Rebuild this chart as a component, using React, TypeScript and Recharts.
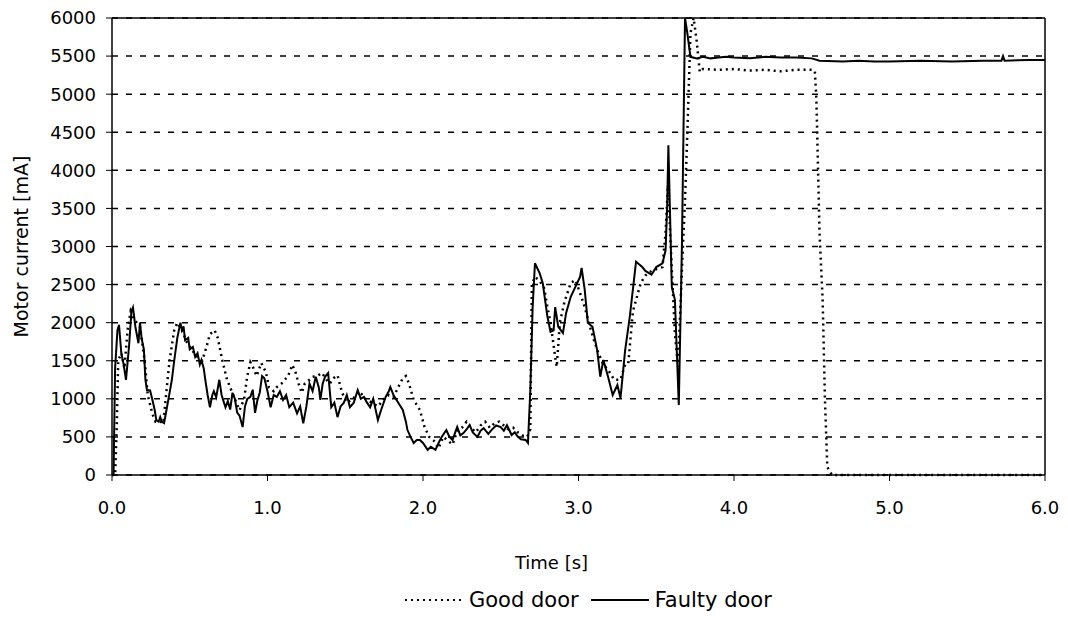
import { LineChart, Line, XAxis, YAxis, CartesianGrid, ReferenceLine, Legend } from "recharts";

const yTicks = [0, 500, 1000, 1500, 2000, 2500, 3000, 3500, 4000, 4500, 5000, 5500, 6000];
const xTicks = [0, 1, 2, 3, 4, 5, 6];

// Faulty door (solid line)
const faultyTime = [
  0, 0.01, 0.02, 0.035, 0.045, 0.06, 0.075, 0.09, 0.11, 0.125, 0.135, 0.15, 0.17, 0.18, 0.19, 0.205, 0.215, 0.225, 0.245, 0.26,
  0.275, 0.285, 0.3, 0.31, 0.32, 0.335, 0.35, 0.37, 0.385, 0.4, 0.42, 0.44, 0.45, 0.46, 0.47, 0.49, 0.5, 0.52, 0.535, 0.55,
  0.565, 0.575, 0.59, 0.6, 0.615, 0.63, 0.645, 0.655, 0.67, 0.69, 0.705, 0.72, 0.73, 0.745, 0.76, 0.775, 0.79, 0.805, 0.82, 0.84,
  0.855, 0.87, 0.89, 0.905, 0.92, 0.935, 0.95, 0.965, 0.98, 1.0, 1.02, 1.04, 1.06, 1.08, 1.1, 1.12, 1.14, 1.165, 1.19, 1.21,
  1.23, 1.25, 1.27, 1.29, 1.31, 1.33, 1.34, 1.355, 1.37, 1.39, 1.41, 1.43, 1.45, 1.47, 1.49, 1.51, 1.53, 1.555, 1.58, 1.6,
  1.62, 1.64, 1.66, 1.68, 1.71, 1.73, 1.76, 1.78, 1.79, 1.81, 1.83, 1.85, 1.87, 1.89, 1.9, 1.92, 1.94, 1.96, 1.98, 2.0,
  2.03, 2.05, 2.08, 2.1, 2.12, 2.15, 2.17, 2.19, 2.22, 2.24, 2.26, 2.28, 2.3, 2.32, 2.35, 2.37, 2.39, 2.42, 2.44, 2.47,
  2.5, 2.52, 2.54, 2.57, 2.59, 2.61, 2.63, 2.66, 2.675, 2.69, 2.705, 2.72, 2.75, 2.77, 2.8, 2.82, 2.84, 2.85, 2.87, 2.9,
  2.92, 2.95, 2.98, 3.01, 3.02, 3.04, 3.06, 3.09, 3.12, 3.14, 3.16, 3.19, 3.22, 3.25, 3.27, 3.3, 3.33, 3.37, 3.41, 3.43,
  3.47, 3.5, 3.54, 3.56, 3.57, 3.578, 3.6, 3.62, 3.645, 3.665, 3.685, 3.7, 3.72, 3.76, 3.8, 3.85, 3.9, 3.95, 4.0, 4.1,
  4.2, 4.3, 4.4, 4.5, 4.55, 4.7, 4.8, 4.9, 5.0, 5.2, 5.4, 5.6, 5.72, 5.73, 5.74, 5.9, 6.0,
];
const faultyCurrent = [
  0, 0, 1400, 1900, 1970, 1600, 1450, 1250, 1700, 2150, 2200, 1950, 1730, 2000, 1800, 1650, 1250, 1115, 1110, 985,
  850, 720, 700, 760, 700, 680, 850, 1075, 1250, 1500, 1800, 2000, 1900, 1950, 1770, 1800, 1650, 1680, 1550, 1600,
  1450, 1510, 1400, 1250, 1050, 890, 1050, 1100, 1020, 1250, 1050, 950, 890, 970, 860, 1080, 1000, 820, 780, 630,
  900, 1000, 1025, 1120, 815, 980, 1080, 1300, 1270, 1100, 890, 1050, 1025, 1100, 985, 1050, 890, 950, 810, 900,
  680, 900, 1200, 1100, 1290, 1150, 985, 1200, 1290, 1340, 890, 950, 760, 900, 945, 1050, 890, 950, 1115, 1000,
  1025, 950, 890, 1000, 720, 850, 1025, 1100, 1155, 1050, 985, 920, 855, 700, 590, 500, 420, 460, 460, 420,
  330, 370, 330, 420, 500, 590, 500, 460, 630, 520, 550, 600, 655, 560, 500, 580, 615, 540, 590, 650,
  630, 580, 655, 525, 560, 500, 470, 460, 420, 1100, 2200, 2780, 2650, 2520, 2080, 1880, 1900, 2205, 1945, 1865,
  2125, 2340, 2470, 2600, 2720, 2430, 2000, 1945, 1640, 1290, 1510, 1290, 1050, 1180, 1010, 1640, 2080, 2800, 2730, 2680,
  2630, 2730, 2780, 2950, 3520, 4330, 2470, 2300, 920, 3000, 6000, 5800, 5490, 5470, 5490, 5470, 5480, 5490, 5480, 5470,
  5490, 5480, 5480, 5470, 5440, 5430, 5440, 5430, 5430, 5440, 5430, 5440, 5440, 5500, 5440, 5450, 5450,
];

// Good door (dotted line)
const goodTime = [
  0, 0.02, 0.03, 0.04, 0.06, 0.08, 0.1, 0.12, 0.14, 0.16, 0.18, 0.21, 0.23, 0.26, 0.28, 0.31, 0.33, 0.35, 0.37, 0.4,
  0.42, 0.45, 0.48, 0.51, 0.55, 0.58, 0.61, 0.63, 0.66, 0.68, 0.71, 0.74, 0.77, 0.8, 0.82, 0.85, 0.87, 0.89, 0.91, 0.93,
  0.96, 0.99, 1.01, 1.04, 1.06, 1.09, 1.11, 1.13, 1.16, 1.18, 1.2, 1.22, 1.24, 1.27, 1.29, 1.32, 1.35, 1.38, 1.4, 1.43,
  1.45, 1.48, 1.51, 1.55, 1.59, 1.63, 1.67, 1.71, 1.75, 1.78, 1.81, 1.84, 1.87, 1.89, 1.91, 1.94, 1.98, 2.01, 2.04, 2.07,
  2.1, 2.13, 2.16, 2.19, 2.22, 2.25, 2.28, 2.31, 2.34, 2.37, 2.4, 2.43, 2.46, 2.49, 2.52, 2.55, 2.58, 2.61, 2.64, 2.67,
  2.69, 2.7, 2.72, 2.75, 2.78, 2.8, 2.82, 2.85, 2.86, 2.88, 2.91, 2.95, 2.98, 3.01, 3.04, 3.08, 3.12, 3.16, 3.19, 3.23,
  3.27, 3.3, 3.32, 3.35, 3.4, 3.43, 3.47, 3.54, 3.56, 3.575, 3.58, 3.6, 3.62, 3.64, 3.665, 3.685, 3.7, 3.72, 3.74, 3.76,
  3.78, 3.8, 3.9, 4.0, 4.1, 4.2, 4.3, 4.4, 4.5, 4.52, 4.53, 4.55, 4.57, 4.585, 4.6, 4.63, 6.0,
];
const goodCurrent = [
  0, 0, 600, 1500, 1600, 1400, 1900, 2150, 2050, 2000, 1950, 1500, 1050, 800, 700, 700, 680, 1100, 1500, 1900,
  2000, 1900, 1750, 1650, 1550, 1500, 1700, 1850, 1900, 1800, 1500, 1250, 1100, 950, 850, 1000, 1300, 1480, 1400, 1300,
  1470, 1350, 1150, 1100, 1155, 1200, 1250, 1290, 1445, 1350, 1200, 1080, 1200, 1250, 1290, 1300, 1340, 1250, 1200, 1280,
  1310, 1080, 950, 1000, 1100, 1000, 950, 900, 1000, 1050, 1025, 1150, 1270, 1300, 1200, 985, 855, 630, 500, 450,
  350, 500, 450, 400, 580, 620, 700, 620, 560, 650, 700, 620, 680, 700, 650, 600, 620, 560, 520, 500,
  600, 2500, 2600, 2550, 2450, 2205, 2000, 1550, 1420, 2000, 2275, 2520, 2560, 2390, 2205, 1900, 1640, 1450, 1380, 1250,
  1250, 1450, 1460, 2150, 2520, 2620, 2680, 2730, 3180, 3800, 3610, 2700, 1860, 1420, 2690, 3610, 4500, 5800, 6000, 5700,
  5290, 5330, 5320, 5330, 5310, 5320, 5300, 5320, 5320, 5300, 4920, 3180, 2300, 985, 105, 0, 0,
];

const faultyData = faultyTime.map((t, i) => ({ t, v: faultyCurrent[i] }));
const goodData = goodTime.map((t, i) => ({ t, v: goodCurrent[i] }));

const font = "'DejaVu Sans', sans-serif";
const tickStyle = { fontSize: 18, fill: "#000", fontFamily: font };

function LegendBox() {
  return (
    <div style={{ height: 30, display: "flex", alignItems: "center", paddingLeft: 405, fontFamily: font, fontSize: 21, color: "#000" }}>
      <svg width={58} height={10}>
        <line x1={0} y1={5} x2={58} y2={5} stroke="#000" strokeWidth={2} strokeDasharray="2 4" />
      </svg>
      <span style={{ marginLeft: 6 }}>Good door</span>
      <svg width={58} height={10} style={{ marginLeft: 12 }}>
        <line x1={0} y1={5} x2={58} y2={5} stroke="#000" strokeWidth={2} />
      </svg>
      <span style={{ marginLeft: 6 }}>Faulty door</span>
    </div>
  );
}

export default function App() {
  return (
    <div style={{ position: "absolute", left: 0, top: 0, background: "#fff" }}>
      <LineChart width={1068} height={629} margin={{ top: 18, right: 23, bottom: 14, left: 0 }}>
        <CartesianGrid vertical={false} stroke="#000" strokeWidth={1.5} strokeDasharray="6 8" />
        <XAxis
          dataKey="t"
          type="number"
          domain={[0, 6]}
          ticks={xTicks}
          tickFormatter={(v: number) => v.toFixed(1)}
          allowDuplicatedCategory={false}
          height={110}
          tick={tickStyle}
          tickSize={6}
          tickMargin={20}
          axisLine={{ stroke: "#000", strokeWidth: 1.5 }}
          tickLine={{ stroke: "#000" }}
          label={{
            content: (p: any) => (
              <text x={p.viewBox.x + p.viewBox.width / 2 - 27} y={p.viewBox.y + 94} textAnchor="middle" fontSize={18} fontFamily={font} fill="#000">
                Time [s]
              </text>
            ),
          }}
        />
        <YAxis
          type="number"
          domain={[0, 6000]}
          ticks={yTicks}
          width={112}
          tick={tickStyle}
          tickSize={6}
          tickMargin={10}
          axisLine={{ stroke: "#000", strokeWidth: 1.5 }}
          tickLine={{ stroke: "#000" }}
          label={{
            content: (p: any) => {
              const cx = 21;
              const cy = p.viewBox.y + p.viewBox.height / 2;
              return (
                <text x={cx} y={cy} transform={`rotate(-90 ${cx} ${cy})`} textAnchor="middle" dominantBaseline="central" fontSize={19} fontFamily={font} fill="#000">
                  Motor current [mA]
                </text>
              );
            },
          }}
        />
        <ReferenceLine y={6000} stroke="#000" strokeWidth={1.5} />
        <ReferenceLine x={6} stroke="#000" strokeWidth={1.5} />
        <Legend verticalAlign="bottom" content={() => <LegendBox />} />
        <Line
          data={goodData}
          dataKey="v"
          name="Good door"
          type="linear"
          stroke="#000"
          strokeWidth={2.5}
          strokeDasharray="2 4"
          dot={false}
          isAnimationActive={false}
        />
        <Line
          data={faultyData}
          dataKey="v"
          name="Faulty door"
          type="linear"
          stroke="#000"
          strokeWidth={2}
          dot={false}
          isAnimationActive={false}
        />
      </LineChart>
    </div>
  );
}
